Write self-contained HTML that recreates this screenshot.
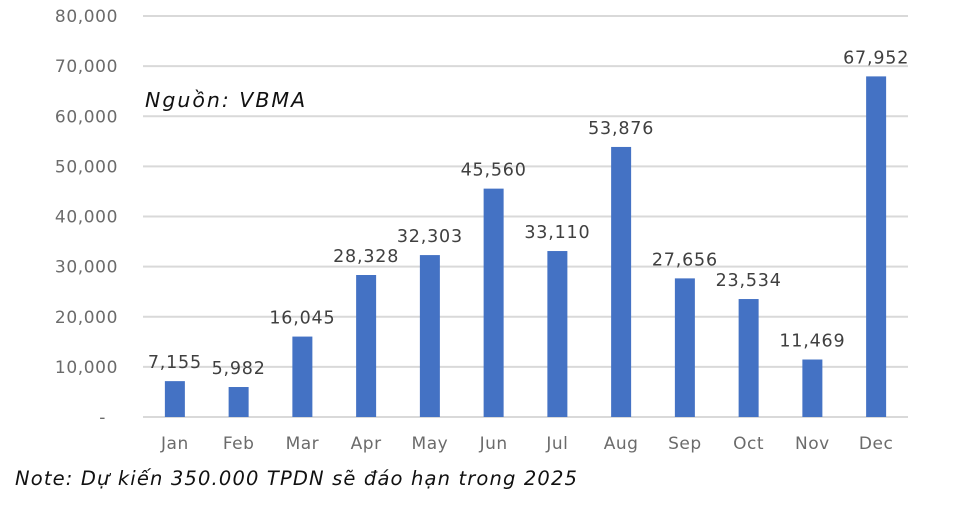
<!DOCTYPE html>
<html><head><meta charset="utf-8"><style>
body{margin:0;background:#fff;width:955px;height:510px;overflow:hidden}
svg{display:block}
</style></head><body>
<svg width="955" height="510">
<g id="grid"></g>
<g id="ylab"></g>
<g id="bars"></g>
<g id="vlab"></g>
<g id="xlab"></g>
<text x="145" y="107" font-family="DejaVu Sans, sans-serif" font-style="italic" font-size="20.5" letter-spacing="2" fill="#111">Nguồn: VBMA</text>
<text x="15" y="485" font-family="DejaVu Sans, sans-serif" font-style="italic" font-size="19.5" letter-spacing="1.15" fill="#111">Note: Dự kiến 350.000 TPDN sẽ đáo hạn trong 2025</text>
</svg>
<script>
const categories=["Jan","Feb","Mar","Apr","May","Jun","Jul","Aug","Sep","Oct","Nov","Dec"];
const values=[7155,5982,16045,28328,32303,45560,33110,53876,27656,23534,11469,67952];
const valueLabels=["7,155","5,982","16,045","28,328","32,303","45,560","33,110","53,876","27,656","23,534","11,469","67,952"];
const ticks=[0,10000,20000,30000,40000,50000,60000,70000,80000];
const tickLabels=["-","10,000","20,000","30,000","40,000","50,000","60,000","70,000","80,000"];
const NS="http://www.w3.org/2000/svg";
const x0=143,x1=908,y0=417,y80=16;
const yS=v=>y0-(v/80000)*(y0-y80);
const bw=(x1-x0)/categories.length;
const xC=i=>x0+bw*(i+0.5);
function mk(t,a,p){const e=document.createElementNS(NS,t);for(const k in a)e.setAttribute(k,a[k]);p.appendChild(e);return e;}
const F="DejaVu Sans, sans-serif";
ticks.forEach((t,i)=>{
 const l=mk("line",{x1:x0,x2:x1,y1:yS(t),y2:yS(t),stroke:"#d9d9d9","stroke-width":2},document.getElementById("grid"));
 
 
 const tx=mk("text",{x:i==0?106:118,y:yS(t)+6,"text-anchor":"end","font-family":F,"font-size":17,"letter-spacing":0.6,fill:"#6b6b6b"},document.getElementById("ylab"));
 tx.textContent=tickLabels[i];
 
 
});
categories.forEach((c,i)=>{
 const r=mk("rect",{x:xC(i)-10,y:yS(values[i]),width:20,height:y0-yS(values[i]),fill:"#4472C4"},document.getElementById("bars"));
 
 
 const v=mk("text",{x:xC(i),y:yS(values[i])-13,"text-anchor":"middle","font-family":F,"font-size":17.5,"letter-spacing":0.8,fill:"#404040"},document.getElementById("vlab"));
 v.textContent=valueLabels[i];
 
 
 const xl=mk("text",{x:xC(i),y:449,"text-anchor":"middle","font-family":F,"font-size":17,"letter-spacing":0.5,fill:"#6b6b6b"},document.getElementById("xlab"));
 xl.textContent=c;
 
 
});
</script>
</body></html>
